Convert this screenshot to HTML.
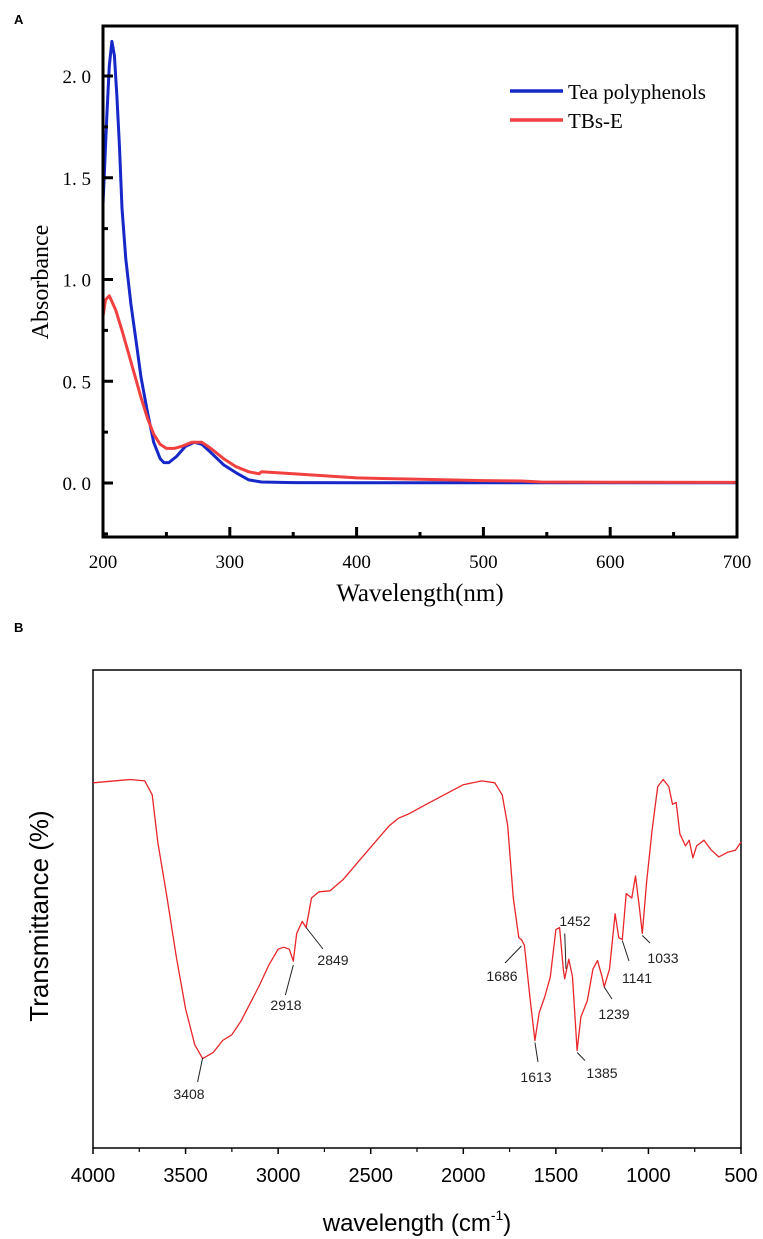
<!DOCTYPE html>
<html><head><meta charset="utf-8"><style>
html,body{margin:0;padding:0;background:#fff;}
svg{display:block;}
.serif{font-family:"Liberation Serif","Noto Serif CJK SC",serif;}
.sans{font-family:"Liberation Sans",sans-serif;}
</style></head><body>
<svg id="fig" width="763" height="1239" viewBox="0 0 763 1239">
<text x="14" y="24" class="sans" font-size="13" font-weight="bold">A</text>
<text x="14" y="632" class="sans" font-size="13" font-weight="bold">B</text>
<g id="chartA"></g>
<g id="chartB"></g>
</svg>
<script>
// ---------- Panel A data ----------
const blueWl = [200,203,205,207,209,211,213,215,218,222,226,230,235,240,245,248,252,258,265,272,278,285,295,305,315,325,350,400,500,600,700];
const blueAbs = [1.37,1.8,2.05,2.17,2.1,1.9,1.65,1.35,1.1,0.88,0.7,0.52,0.35,0.2,0.12,0.1,0.1,0.13,0.18,0.2,0.19,0.15,0.09,0.05,0.015,0.005,0.002,0.001,0.001,0.001,0.001];
const redWl = [200,202,205,210,215,220,225,230,235,240,245,250,256,262,270,278,285,295,305,315,323,325,350,400,450,500,530,545,600,700];
const redAbs = [0.82,0.9,0.92,0.85,0.75,0.64,0.53,0.42,0.32,0.24,0.19,0.17,0.17,0.18,0.2,0.2,0.17,0.12,0.08,0.055,0.045,0.055,0.045,0.025,0.018,0.012,0.01,0.005,0.004,0.003];
const aXTicks = [200,300,400,500,600,700];
const aXMinor = [250,350,450,550,650];
const aYTicks = [0,0.5,1.0,1.5,2.0];
const aYTickLabels = ["0. 0","0. 5","1. 0","1. 5","2. 0"];
const aYMinor = [-0.25,0.25,0.75,1.25,1.75];
const legendNames = ["Tea polyphenols","TBs-E"];

// ---------- Panel B data ----------
const irWn = [4000,3800,3720,3680,3650,3600,3550,3500,3450,3408,3350,3300,3250,3200,3100,3050,3000,2970,2940,2918,2900,2870,2849,2820,2780,2720,2650,2550,2400,2350,2300,2200,2000,1900,1830,1790,1760,1730,1700,1686,1670,1640,1613,1590,1560,1530,1500,1480,1460,1452,1430,1410,1385,1365,1330,1300,1275,1250,1239,1210,1180,1160,1141,1120,1090,1070,1050,1033,1010,980,950,920,890,870,850,830,800,780,760,740,700,660,620,570,530,500];
const irT = [76.4,77.1,76.8,73.9,64.0,52.3,40.0,29.1,21.6,18.7,20.0,22.5,23.7,26.6,34.1,38.3,41.6,42.0,41.6,39.1,44.9,47.4,46.1,52.3,53.6,53.8,56.1,60.7,67.4,69.0,69.8,71.9,76.0,76.8,76.4,73.9,67.4,52.3,44.0,43.6,42.4,31.6,22.5,28.3,31.6,35.8,45.7,46.1,37.4,35.4,39.5,35.8,20.4,27.4,30.8,37.4,39.2,35.8,33.7,37.4,49.0,44.0,43.6,53.2,52.3,56.9,50.7,44.9,55.6,66.5,75.6,77.1,75.6,71.9,72.3,65.7,63.2,64.4,60.7,63.2,64.4,62.3,60.9,61.9,62.3,64.0];
const bXTicks = [4000,3500,3000,2500,2000,1500,1000,500];
const bXMinor = [3750,3250,2750,2250,1750,1250,750];
const peakWn = [3408,2918,2849,1686,1452,1613,1385,1239,1141,1033];
const peakLabel = ["3408","2918","2849","1686","1452","1613","1385","1239","1141","1033"];
// leader line offsets / label offsets (layout, px)
const peakLayout = [
 {y1:1058,x2:197.6,y2:1082,tx:189,ty:1099},
 {y1:965,x2:285.4,y2:995,tx:286,ty:1010},
 {y1:927.5,x2:323,y2:949,tx:333,ty:965},
 {y1:946,x2:505,y2:963,tx:502,ty:981},
 {y1:933.5,x2:566,y2:969,tx:575,ty:926},
 {y1:1042.6,x2:538,y2:1062,tx:536,ty:1082},
 {y1:1052.5,x2:585,y2:1060.5,tx:602,ty:1078},
 {y1:987,x2:612,y2:999,tx:614,ty:1019},
 {y1:940.6,x2:629,y2:961,tx:637,ty:983},
 {y1:935.5,x2:650,y2:943,tx:663,ty:963}
];

const NS="http://www.w3.org/2000/svg";
function mk(parent,tag,attrs,text){const e=document.createElementNS(NS,tag);for(const k in attrs)e.setAttribute(k,attrs[k]);if(text!==undefined)e.textContent=text;parent.appendChild(e);return e;}

// ===== Panel A =====
const gA=document.getElementById('chartA');
const AL=103,AR=737,AT=26,AB=537;
const ax=v=>AL+(v-200)/(700-200)*(AR-AL);
const ay=v=>483-v*203.5;
function aPath(xs,ys){return xs.map((x,i)=>(i?'L':'M')+ax(x).toFixed(1)+','+ay(ys[i]).toFixed(1)).join(' ');}
let p=mk(gA,'path',{d:aPath(blueWl,blueAbs),fill:'none',stroke:'#1628c8','stroke-width':3,'stroke-linejoin':'round'});


p=mk(gA,'path',{d:aPath(redWl,redAbs),fill:'none',stroke:'#f04040','stroke-width':3,'stroke-linejoin':'round'});


let r=mk(gA,'rect',{x:AL,y:AT,width:AR-AL,height:AB-AT,fill:'none',stroke:'#000','stroke-width':3});


aXTicks.forEach(v=>{
 let t=mk(gA,'line',{x1:ax(v),x2:ax(v),y1:AB,y2:AB-10,stroke:'#000','stroke-width':3});
 
 
 let l=mk(gA,'text',{x:ax(v),y:568,'text-anchor':'middle','font-size':19,class:'serif'},String(v));
 
 
});
aXMinor.forEach(v=>{
 let t=mk(gA,'line',{x1:ax(v),x2:ax(v),y1:AB,y2:AB-5,stroke:'#000','stroke-width':3});
 
 
});
aYTicks.forEach((v,i)=>{
 let t=mk(gA,'line',{x1:AL,x2:AL+10,y1:ay(v),y2:ay(v),stroke:'#000','stroke-width':3});
 
 
 let l=mk(gA,'text',{x:91,y:ay(v)+7,'text-anchor':'end','font-size':19,class:'serif'},aYTickLabels[i]);
 
 
});
aYMinor.forEach(v=>{
 let t=mk(gA,'line',{x1:AL,x2:AL+5,y1:ay(v),y2:ay(v),stroke:'#000','stroke-width':3});
 
 
});
let tx=mk(gA,'text',{x:420,y:601,'text-anchor':'middle','font-size':25,class:'serif'},'Wavelength(nm)');


tx=mk(gA,'text',{x:0,y:0,'text-anchor':'middle','font-size':24,class:'serif',transform:'translate(48,282) rotate(-90)'},'Absorbance');


const legColors=['#1628c8','#f04040'];
legendNames.forEach((n,i)=>{
 const y=91+i*29;
 let l=mk(gA,'line',{x1:510,x2:563,y1:y,y2:y,stroke:legColors[i],'stroke-width':3.5});
 
 
 let t=mk(gA,'text',{x:568,y:y+8,'font-size':21,class:'serif'},n);
 
 
});

// ===== Panel B =====
const gB=document.getElementById('chartB');
const BL=93,BR=741,BT=670,BB=1148;
const bx=v=>BL+(4000-v)/(4000-500)*(BR-BL);
const by=v=>BB-v/100*(BB-BT);
r=mk(gB,'rect',{x:BL,y:BT,width:BR-BL,height:BB-BT,fill:'none',stroke:'#000','stroke-width':1.5});


p=mk(gB,'path',{d:irWn.map((w,i)=>(i?'L':'M')+bx(w).toFixed(1)+','+by(irT[i]).toFixed(1)).join(' '),fill:'none',stroke:'#e8262a','stroke-width':1.3,'stroke-linejoin':'round'});


bXTicks.forEach(v=>{
 let t=mk(gB,'line',{x1:bx(v),x2:bx(v),y1:BB,y2:BB+6,stroke:'#000','stroke-width':1.5});
 
 
 let l=mk(gB,'text',{x:bx(v),y:1182,'text-anchor':'middle','font-size':20,class:'sans'},String(v));
 
 
});
bXMinor.forEach(v=>{
 let t=mk(gB,'line',{x1:bx(v),x2:bx(v),y1:BB,y2:BB+4,stroke:'#000','stroke-width':1.2});
 
 
});
peakWn.forEach((w,i)=>{
 const L=peakLayout[i];
 let l=mk(gB,'line',{x1:bx(w),y1:L.y1,x2:L.x2,y2:L.y2,stroke:'#222','stroke-width':1});
 
 
 let t=mk(gB,'text',{x:L.tx,y:L.ty,'text-anchor':'middle','font-size':14,class:'sans',fill:'#222'},peakLabel[i]);
 
 
});
tx=mk(gB,'text',{x:417,y:1231,'text-anchor':'middle','font-size':24,class:'sans'});


tx.appendChild(document.createTextNode('wavelength (cm'));
mk(tx,'tspan',{'font-size':14,dy:-11},'-1');
mk(tx,'tspan',{dy:11},')');
tx=mk(gB,'text',{x:0,y:0,'text-anchor':'middle','font-size':26,class:'sans',transform:'translate(48,916) rotate(-90)'},'Transmittance (%)');


</script>
</body></html>
